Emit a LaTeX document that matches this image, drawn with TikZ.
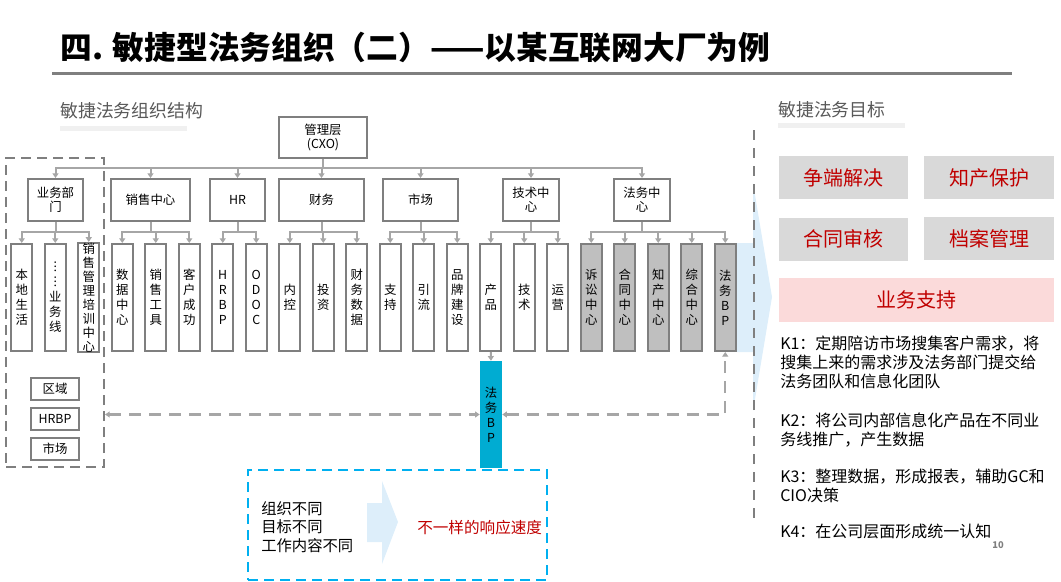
\documentclass[tikz,border=0pt]{standalone}
\usepackage{fontspec}
\setmainfont{Noto Sans CJK SC}
\usetikzlibrary{arrows.meta}
\definecolor{bordergray}{HTML}{7F7F7F}
\definecolor{linegray}{HTML}{A6A6A6}
\definecolor{fillgray}{HTML}{BFBFBF}
\definecolor{goalgray}{HTML}{D9D9D9}
\definecolor{goalpink}{HTML}{FBDADA}
\definecolor{darkred}{HTML}{C00000}
\definecolor{cyanbp}{HTML}{00ACD2}
\definecolor{cyandash}{HTML}{00B0F0}
\definecolor{lightblue}{HTML}{DDEEFA}
\definecolor{subgray}{HTML}{595959}
\definecolor{bargray}{HTML}{F0F0F0}
\tikzset{
  boxbase/.style={draw=bordergray, line width=1.5pt, fill=white, inner sep=0pt, align=center},
  lvltwo/.style={boxbase, minimum height=31.5pt, font=\fontsize{9.3}{10.5}\selectfont},
  lvlthree/.style={boxbase, minimum width=16.1pt, minimum height=80.25pt, font=\fontsize{9.3}{11.25}\selectfont},
  lawbox/.style={lvlthree, fill=fillgray},
  smallbox/.style={boxbase, minimum width=36pt, minimum height=16.5pt, font=\fontsize{9.3}{10.5}\selectfont},
  conn/.style={draw=linegray, line width=1.5pt, -{Triangle[width=4.5pt,length=3.5pt]}},
  dasharr/.style={draw=linegray, line width=1.6pt, dash pattern=on 9pt off 6pt, {Triangle[width=4.5pt,length=3.5pt]}-{Triangle[width=4.5pt,length=3.5pt]}},
  goalbox/.style={fill=goalgray, inner sep=0pt, minimum height=32.25pt, text=darkred, font=\fontsize{15}{17}\selectfont},
  ktext/.style={anchor=north west, inner sep=0pt, align=left, font=\fontsize{12}{14.25}\selectfont},
  subtitle/.style={anchor=west, inner sep=0pt, text=subgray, font=\fontsize{13.4}{15}\selectfont},
}
\begin{document}
\begin{tikzpicture}[x=0.75pt,y=-0.75pt]
\useasboundingbox (0,0) rectangle (1061,582);

% title
\node[anchor=west, inner sep=0pt, font=\fontsize{23.8}{27}\bfseries\selectfont] (title) at (60,48) {四. 敏捷型法务组织（二）——以某互联网大厂为例};
\draw[bordergray, line width=2.25pt] (52,73) -- (1012,73);

% subtitles
\fill[bargray] (60,126) rectangle (187,131);
\node[subtitle] (sub1) at (60,111) {敏捷法务组织结构};
\fill[bargray] (778,123) rectangle (905,128);
\node[subtitle] (sub2) at (778,110) {敏捷法务目标};

% light blue arrow
\fill[lightblue] (737,243) -- (753,243) -- (753,183) -- (772,297) -- (753,411) -- (753,352) -- (737,352) -- cycle;

% dashed group
\node[draw=bordergray, line width=1.6pt, dash pattern=on 7.5pt off 4.5pt, inner sep=0pt, minimum width=73.5pt, minimum height=231.75pt] (group) at (55,312.5) {};

% top
\node[boxbase, minimum width=66pt, minimum height=30.75pt, font=\fontsize{9.3}{10.5}\selectfont] (mgmt) at (323,137.5) {管理层\\(CXO)};

% level two
\node[lvltwo, minimum width=41.25pt] (ywbm) at (55.5,200) {业务部\\门};
\node[lvltwo, minimum width=59.25pt] (xszx) at (150.5,200) {销售中心};
\node[lvltwo, minimum width=41.25pt] (hr) at (237.5,200) {HR};
\node[lvltwo, minimum width=63.75pt] (cw) at (321.5,200) {财务};
\node[lvltwo, minimum width=56.25pt] (sc) at (420.5,200) {市场};
\node[lvltwo, minimum width=42pt] (jszx) at (531,200) {技术中\\心};
\node[lvltwo, minimum width=42pt] (fwzx) at (642,200) {法务中\\心};

% level three
\node[lvlthree] (bdsh) at (21.75,297.5) {本\\地\\生\\活};
\node[lvlthree] (ywx) at (55.25,297.5) {︙\\︙\\业\\务\\线};
\node[lvlthree, font=\fontsize{9.3}{10.5}\selectfont] (xsgl) at (88.75,297.5) {销\\售\\管\\理\\培\\训\\中\\心};
\node[lvlthree] (sjzx) at (122.25,297.5) {数\\据\\中\\心};
\node[lvlthree] (xsgj) at (155.75,297.5) {销\\售\\工\\具};
\node[lvlthree] (khcg) at (189.25,297.5) {客\\户\\成\\功};
\node[lvlthree] (hrbp) at (222.75,297.5) {H\\R\\B\\P};
\node[lvlthree] (odoc) at (256.25,297.5) {O\\D\\O\\C};
\node[lvlthree] (nk) at (289.75,297.5) {内\\控};
\node[lvlthree] (tz) at (323.25,297.5) {投\\资};
\node[lvlthree] (cwsj) at (356.75,297.5) {财\\务\\数\\据};
\node[lvlthree] (zc) at (390.25,297.5) {支\\持};
\node[lvlthree] (yl) at (423.75,297.5) {引\\流};
\node[lvlthree] (ppjs) at (457.25,297.5) {品\\牌\\建\\设};
\node[lvlthree] (cp) at (490.75,297.5) {产\\品};
\node[lvlthree] (js) at (524.25,297.5) {技\\术};
\node[lvlthree] (yy) at (557.75,297.5) {运\\营};
\node[lawbox] (sszx) at (591.25,297.5) {诉\\讼\\中\\心};
\node[lawbox] (htzx) at (624.75,297.5) {合\\同\\中\\心};
\node[lawbox] (zczx) at (658.25,297.5) {知\\产\\中\\心};
\node[lawbox] (zhzx) at (691.75,297.5) {综\\合\\中\\心};
\node[lawbox] (lbp) at (725.25,297.5) {法\\务\\B\\P};

% group small boxes
\node[smallbox] (qy) at (55,389) {区域};
\node[smallbox] (ghrbp) at (55,419) {HRBP};
\node[smallbox] (gsc) at (55,449) {市场};

% legal BP
\node[fill=cyanbp, inner sep=0pt, minimum width=16.5pt, minimum height=80.25pt, align=center, font=\fontsize{9.3}{11.25}\selectfont] (fwbp) at (491,414.5) {法\\务\\B\\P};

% connectors top -> level two
\foreach \c in {ywbm,xszx,hr,cw,sc,jszx,fwzx}{
  \draw[conn] (mgmt.south) -- ++(0,9) -| (\c.north);
}
% level two -> level three
\foreach \p/\c in {ywbm/bdsh,ywbm/ywx,ywbm/xsgl,xszx/sjzx,xszx/xsgj,xszx/khcg,hr/hrbp,hr/odoc,cw/nk,cw/tz,cw/cwsj,sc/zc,sc/yl,sc/ppjs,jszx/cp,jszx/js,jszx/yy,fwzx/sszx,fwzx/htzx,fwzx/zczx,fwzx/zhzx,fwzx/lbp}{
  \draw[conn] (\p.south) -- ++(0,10) -| (\c.north);
}
\draw[conn] (cp.south) -- (fwbp.north);
\draw[dasharr] (group.east |- fwbp.west) -- (fwbp.west);
\draw[dasharr] (fwbp.east) -| (lbp.south);

% separator
\draw[bordergray, line width=1.6pt, dash pattern=on 7.5pt off 6pt] (754,130) -- (754,520);

% goals
\node[goalbox, minimum width=96.75pt] (zdjj) at (843.5,177.5) {争端解决};
\node[goalbox, minimum width=97.5pt] (zcbh) at (989,177.5) {知产保护};
\node[goalbox, minimum width=96.75pt] (htsh) at (843.5,239) {合同审核};
\node[goalbox, minimum width=97.5pt] (dagl) at (989,238.5) {档案管理};
\node[goalbox, fill=goalpink, minimum width=206.25pt, minimum height=33pt] (ywzc) at (916.5,300) {业务支持};

% K texts
\node[ktext] (k1) at (780,336) {K1：定期陪访市场搜集客户需求，将\\搜集上来的需求涉及法务部门提交给\\法务团队和信息化团队};
\node[ktext] (k2) at (780,413) {K2：将公司内部信息化产品在不同业\\务线推广，产生数据};
\node[ktext] (k3) at (780,469) {K3：整理数据，形成报表，辅助GC和\\CIO决策};
\node[ktext] (k4) at (780,524) {K4：在公司层面形成统一认知};
\node[inner sep=0pt, text=bordergray, font=\fontsize{7}{8}\bfseries\selectfont] (pg) at (998,545) {10};

% bottom box
\node[draw=cyandash, line width=1.6pt, dash pattern=on 7.5pt off 4.5pt, inner sep=0pt, minimum width=224.25pt, minimum height=82.5pt] (diff) at (397.5,525) {};
\fill[lightblue] (367,503) -- (382,503) -- (382,481) -- (398,522) -- (382,564) -- (382,542) -- (367,542) -- cycle;
\node[anchor=west, inner sep=0pt, align=left, font=\fontsize{11.5}{13.9}\selectfont] (diffl) at (261,527) {组织不同\\目标不同\\工作内容不同};
\node[anchor=west, inner sep=0pt, text=darkred, font=\fontsize{11.7}{13}\selectfont] (diffr) at (417,528) {不一样的响应速度};
\end{tikzpicture}
\end{document}
